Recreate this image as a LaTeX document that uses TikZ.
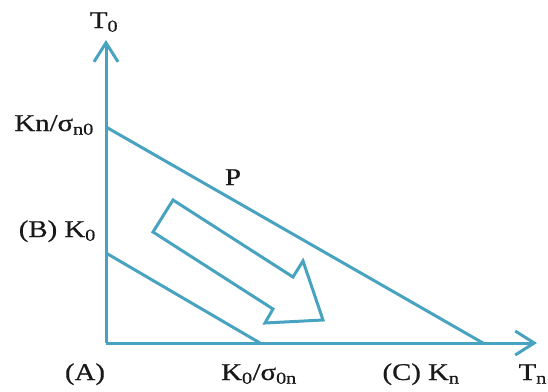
\documentclass[tikz,border=0pt]{standalone}
\usepackage{fontspec}
\setmainfont{Liberation Serif}[FakeStretch=1.2,FakeBold=0.6]
\usetikzlibrary{arrows.meta}
\definecolor{lineblue}{RGB}{72,163,192}
\tikzset{
  axis/.style={draw=lineblue, line width=3pt, -{Straight Barb[length=19pt,width=24pt,line width=3pt]}},
  ln/.style={draw=lineblue, line width=3pt},
  blockarrow/.style={draw=lineblue, line width=3pt, line join=miter},
  lbl/.style={inner sep=0pt, font=\fontsize{24}{26}\selectfont, text=black!90}
}
\begin{document}
\begin{tikzpicture}[x=1pt,y=-1pt]
\useasboundingbox (0,0) rectangle (548,391);
\fill[white] (0,0) rectangle (548,391);
% points
\coordinate (O) at (106,343);
\coordinate (Ytip) at (106,40);
\coordinate (Xtip) at (537,343);
\coordinate (Kn0) at (106,127);
\coordinate (Kn) at (483,343);
\coordinate (K0) at (106,253);
\coordinate (K0s) at (260,343);
% axes
\draw[axis] (O) -- (Ytip);
\draw[axis] (O) -- (Xtip);
% lines
\draw[ln] (Kn0) -- (Kn);
\draw[ln] (K0) -- (K0s);
% block arrow
\draw[blockarrow] (173,200) -- (293,277) -- (303,261) -- (323,320) -- (265,323) -- (273,309) -- (153,232) -- cycle;
% labels
\node[lbl, anchor=base] (t0) at (104,28) {T\textsubscript{0}};
\node[lbl, anchor=base east] (lkn0) at (94,131) {Kn/σ\textsubscript{n0}};
\node[lbl, anchor=base east] (lb) at (96,237) {(B) K\textsubscript{0}};
\node[lbl, anchor=base] (la) at (85,380) {(A)};
\node[lbl, anchor=base] (lk0s) at (259,380) {K\textsubscript{0}/σ\textsubscript{0n}};
\node[lbl, anchor=base] (lc) at (421,380) {(C) K\textsubscript{n}};
\node[lbl, anchor=base east] (ltn) at (547,380) {T\textsubscript{n}};
\node[lbl, anchor=base] (lp) at (233,185) {P};
\end{tikzpicture}
\end{document}
